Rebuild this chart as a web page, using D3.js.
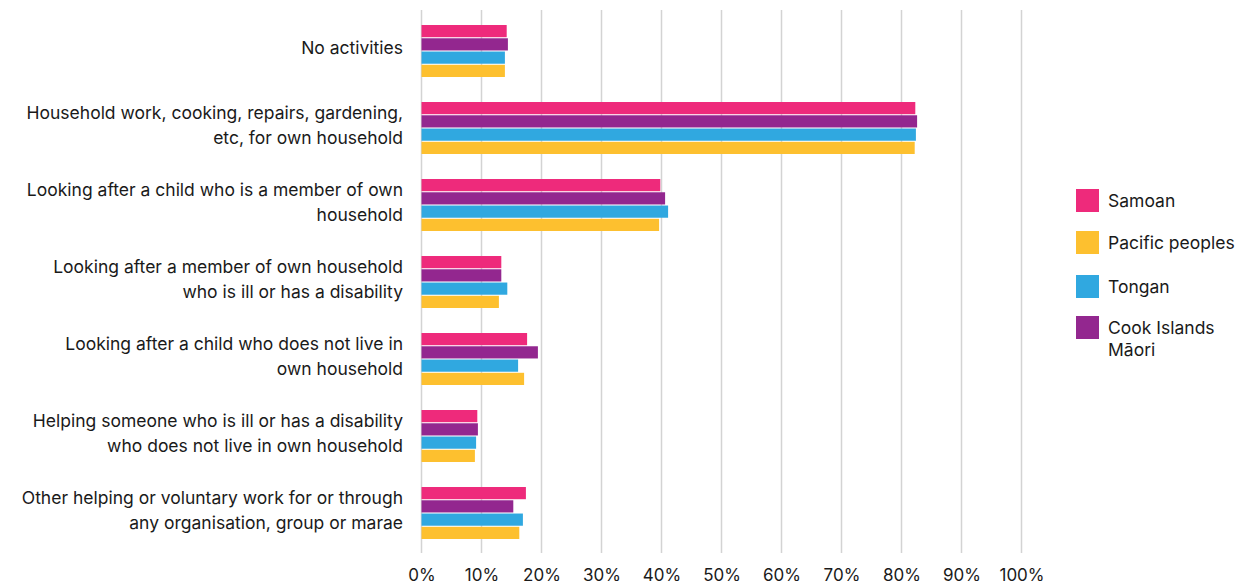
<!DOCTYPE html>
<html>
<head>
<meta charset="utf-8">
<script src="https://cdn.jsdelivr.net/npm/d3@7"></script>
<style>
  body { margin: 0; background: #fff; }
  text { font-family: Inter, "Noto Sans", sans-serif; fill: #1a1a1a; }
</style>
</head>
<body>
<div id="grafico"></div>
<script>
const ancho = 1246;
const alto = 585;

// Categorías (cada una en líneas)
const categorias = [
  ["No activities"],
  ["Household work, cooking, repairs, gardening,", "etc, for own household"],
  ["Looking after a child who is a member of own", "household"],
  ["Looking after a member of own household", "who is ill or has a disability"],
  ["Looking after a child who does not live in", "own household"],
  ["Helping someone who is ill or has a disability", "who does not live in own household"],
  ["Other helping or voluntary work for or through", "any organisation, group or marae"]
];

// Series (orden de las barras, de arriba abajo)
const series = ["Samoan", "Cook Islands Māori", "Tongan", "Pacific peoples"];
const samoan       = [14.2, 82.3, 39.8, 13.3, 17.6, 9.3, 17.4];
const cookIslands  = [14.4, 82.6, 40.6, 13.3, 19.4, 9.4, 15.3];
const tongan       = [13.9, 82.4, 41.1, 14.3, 16.1, 9.1, 16.9];
const pacific      = [13.9, 82.2, 39.6, 12.9, 17.1, 8.9, 16.3];
const valores = [samoan, cookIslands, tongan, pacific];

const colores = {
  "Samoan": "#ee2a7b",
  "Cook Islands Māori": "#93278f",
  "Tongan": "#30a8e0",
  "Pacific peoples": "#fdc02f"
};

// Orden de la leyenda
const leyenda = [["Samoan"], ["Pacific peoples"], ["Tongan"], ["Cook Islands", "Māori"]];
const leyendaClave = ["Samoan", "Pacific peoples", "Tongan", "Cook Islands Māori"];

const ticks = [0, 10, 20, 30, 40, 50, 60, 70, 80, 90, 100];

const svg = d3.select("#grafico").append("svg")
  .attr("width", ancho)
  .attr("height", alto);

const x = d3.scaleLinear().domain([0, 100]).range([421.5, 1021.5]);

const y = d3.scaleBand()
  .domain(d3.range(categorias.length))
  .range([12.5, 551.5])
  .paddingInner(0.325)
  .paddingOuter(0.1625);

const ySub = d3.scaleBand()
  .domain(series)
  .range([0, y.bandwidth()])
  .paddingInner(0.08);

// Rejilla
svg.append("g").selectAll("line")
  .data(ticks)
  .join("line")
  .attr("x1", d => x(d)).attr("x2", d => x(d))
  .attr("y1", 10).attr("y2", 553)
  .attr("stroke", "#d3d3d3")
  .attr("stroke-width", 1.5);

// Barras
const grupos = svg.append("g").selectAll("g")
  .data(categorias.map((c, i) => i))
  .join("g")
  .attr("transform", i => `translate(0,${y(i)})`);

grupos.selectAll("rect")
  .data(i => series.map((s, k) => ({ serie: s, valor: valores[k][i] })))
  .join("rect")
  .attr("x", x(0))
  .attr("y", d => ySub(d.serie))
  .attr("width", d => x(d.valor) - x(0))
  .attr("height", ySub.bandwidth())
  .attr("fill", d => colores[d.serie]);

// Etiquetas de categorías
const etiquetas = svg.append("g").selectAll("text")
  .data(categorias)
  .join("text")
  .attr("text-anchor", "end")
  .attr("font-size", 17.5)
  .attr("transform", (d, i) => `translate(403,${y(i) + y.bandwidth() / 2 - 3})`);

etiquetas.selectAll("tspan")
  .data(d => d.map((t, j) => ({ t, j, n: d.length })))
  .join("tspan")
  .attr("x", 0)
  .attr("y", d => (d.j - (d.n - 1) / 2) * 25)
  .attr("dy", "0.35em")
  .text(d => d.t);

// Eje inferior
const eje = svg.append("g")
  .attr("transform", "translate(0,556)")
  .call(d3.axisBottom(x).tickValues(ticks).tickFormat(d => d + "%").tickSize(0).tickPadding(13));
eje.select(".domain").remove();
eje.selectAll("text")
  .attr("font-size", 17)
  .attr("font-family", "Inter, 'Noto Sans', sans-serif")
  .attr("fill", "#1a1a1a");

// Leyenda
const posLeyenda = [189, 231, 275, 316];
const gl = svg.append("g").selectAll("g")
  .data(leyenda)
  .join("g")
  .attr("transform", (d, i) => `translate(1076,${posLeyenda[i]})`);

gl.append("rect")
  .attr("width", 23).attr("height", 23)
  .attr("fill", (d, i) => colores[leyendaClave[i]]);

gl.append("text")
  .attr("font-size", 17.5)
  .selectAll("tspan")
  .data(d => d)
  .join("tspan")
  .attr("x", 32)
  .attr("y", (d, j) => 12 + j * 22)
  .attr("dy", "0.35em")
  .text(d => d);
</script>
</body>
</html>
